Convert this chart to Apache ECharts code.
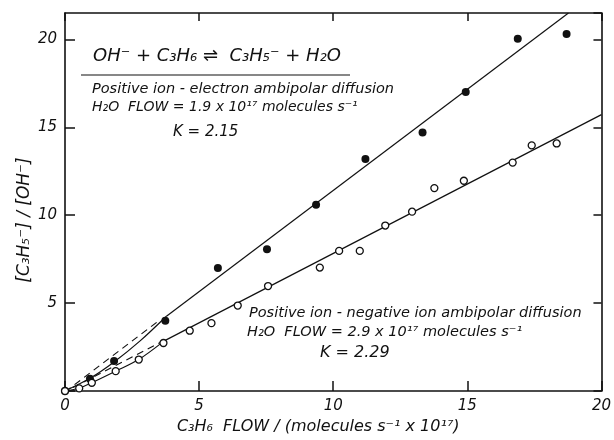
<!DOCTYPE html>
<html lang="en">
<head>
  <meta charset="UTF-8" />
  <title>C3H6 flow</title>
  <script src="https://cdn.jsdelivr.net/npm/echarts@6.0.0/dist/echarts.min.js"></script>
</head>
<body style="margin:0; background:#fff;">
  <div id="main" style="width:614px; height:440px;"></div>
  <script type="text/javascript">
    // electron ambipolar diffusion (filled points)
    let filledPts = [
      [0, 0], [0.93, 0.7], [1.83, 1.7], [3.74, 4.0], [5.7, 7.0], [7.53, 8.06],
      [9.36, 10.6], [11.2, 13.2], [13.33, 14.7], [14.94, 17.0], [16.88, 20.04], [18.7, 20.3]
    ];
    // negative ion ambipolar diffusion (open points)
    let openPts = [
      [0, 0], [0.53, 0.15], [1.0, 0.47], [1.89, 1.13], [2.75, 1.79], [3.67, 2.73],
      [4.65, 3.43], [5.46, 3.86], [6.44, 4.86], [7.57, 5.97], [9.5, 7.02], [10.22, 7.97],
      [10.99, 7.97], [11.94, 9.41], [12.94, 10.2], [13.77, 11.54], [14.87, 11.96],
      [16.69, 12.99], [17.4, 13.97], [18.33, 14.08]
    ];
    // fitted lines
    let upperFit = [[3.77, 4.24], [18.77, 21.5]];
    let lowerFit = [[3.7, 2.85], [20, 15.72]];
    let upperLow = [[0, 0], [0.93, 0.72], [1.83, 1.65], [2.8, 2.85], [3.77, 4.24]];
    let lowerLow = [[0, 0], [0.53, 0.17], [1.0, 0.47], [1.89, 1.13], [2.75, 1.79], [3.7, 2.85]];
    let upperDash = [[0, -0.05], [3.5, 4.0]];
    let lowerDash = [[0.3, 0.2], [3.6, 2.8]];
    let xTicks = [0, 5, 10, 15, 20];
    let yTicks = [5, 10, 15, 20];

    let fam = '"DejaVu Sans", sans-serif';
    let ink = '#111';

    var myChart = echarts.init(document.getElementById('main'));

    function lineSeries(data, dashed, smooth) {
      return {
        type: 'line', data: data, showSymbol: false, smooth: smooth ? 0.3 : false,
        silent: true, z: 2,
        lineStyle: { color: ink, width: 1.2, type: dashed ? [7, 5] : 'solid' }
      };
    }

    let axisLine = { show: true, onZero: false, lineStyle: { color: ink, width: 1.6 } };
    let tickStyle = { color: ink, width: 1.5 };

    myChart.setOption({
      animation: false,
      grid: { left: 65, right: 9, top: 13, bottom: 45 },
      xAxis: [
        {
          type: 'value', min: 0, max: 20, interval: 5,
          axisLine: axisLine,
          axisTick: { inside: true, length: 10, lineStyle: tickStyle },
          axisLabel: {
            margin: 8, fontSize: 15, fontStyle: 'italic', fontFamily: fam, color: ink,
            formatter: function (v) { return xTicks.indexOf(v) >= 0 ? String(v) : ''; }
          },
          splitLine: { show: false },
          name: 'C₃H₆  FLOW / (molecules s⁻¹ x 10¹⁷)',
          nameLocation: 'middle', nameGap: 28,
          nameTextStyle: { fontSize: 16, fontStyle: 'italic', fontFamily: fam, color: ink, padding: [0, 30, 0, 0] }
        },
        {
          type: 'value', position: 'top', min: 0, max: 20, interval: 5,
          axisLine: axisLine,
          axisTick: { inside: true, length: 8, lineStyle: tickStyle },
          axisLabel: { show: false }, splitLine: { show: false }
        }
      ],
      yAxis: [
        {
          type: 'value', min: 0, max: 21.5, interval: 5,
          axisLine: axisLine,
          axisTick: { inside: true, length: 10, lineStyle: tickStyle },
          axisLabel: {
            margin: 8, fontSize: 15, fontStyle: 'italic', fontFamily: fam, color: ink,
            showMaxLabel: false,
            formatter: function (v) { return yTicks.indexOf(v) >= 0 ? String(v) : ''; }
          },
          splitLine: { show: false }
        },
        {
          type: 'value', position: 'right', min: 0, max: 21.5, interval: 5,
          axisLine: axisLine,
          axisTick: { inside: true, length: 8, lineStyle: tickStyle },
          axisLabel: { show: false }, splitLine: { show: false }
        }
      ],
      series: [
        lineSeries(upperFit, false, false),
        lineSeries(lowerFit, false, false),
        lineSeries(upperLow, false, true),
        lineSeries(lowerLow, false, true),
        lineSeries(upperDash, true, false),
        lineSeries(lowerDash, true, false),
        {
          type: 'scatter', data: filledPts, symbol: 'circle', symbolSize: 8, z: 5,
          itemStyle: { color: ink, opacity: 1 }
        },
        {
          type: 'scatter', data: openPts, symbol: 'circle', symbolSize: 7, z: 5,
          itemStyle: { color: '#fff', borderColor: ink, borderWidth: 1.3, opacity: 1 }
        }
      ],
      graphic: [
        {
          type: 'text', x: 25, y: 220, rotation: Math.PI / 2,
          style: {
            text: '[C₃H₅⁻] / [OH⁻]', font: 'italic 17px ' + fam, fill: ink,
            align: 'center', verticalAlign: 'middle'
          }
        },
        {
          type: 'text', x: 93, y: 47,
          style: { text: 'OH⁻ + C₃H₆ ⇌  C₃H₅⁻ + H₂O', font: 'italic 18px ' + fam, fill: ink }
        },
        {
          type: 'line', shape: { x1: 81, y1: 75, x2: 350, y2: 75 },
          style: { stroke: ink, lineWidth: 1.2 }
        },
        {
          type: 'text', x: 92, y: 82,
          style: { text: 'Positive ion - electron ambipolar diffusion', font: 'italic 14.5px ' + fam, fill: ink }
        },
        {
          type: 'text', x: 92, y: 100,
          style: { text: 'H₂O  FLOW = 1.9 x 10¹⁷ molecules s⁻¹', font: 'italic 14px ' + fam, fill: ink }
        },
        {
          type: 'text', x: 173, y: 125,
          style: { text: 'K = 2.15', font: 'italic 15px ' + fam, fill: ink }
        },
        {
          type: 'text', x: 249, y: 306,
          style: { text: 'Positive ion - negative ion ambipolar diffusion', font: 'italic 14.5px ' + fam, fill: ink }
        },
        {
          type: 'text', x: 247, y: 325,
          style: { text: 'H₂O  FLOW = 2.9 x 10¹⁷ molecules s⁻¹', font: 'italic 14.5px ' + fam, fill: ink }
        },
        {
          type: 'text', x: 320, y: 345,
          style: { text: 'K = 2.29', font: 'italic 16px ' + fam, fill: ink }
        }
      ]
    });
  </script>
</body>
</html>
